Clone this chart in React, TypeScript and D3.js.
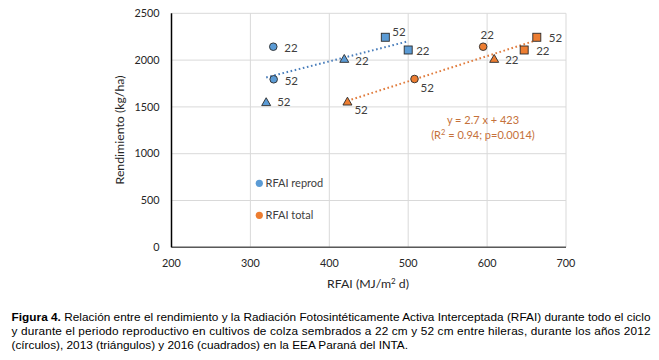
import React from "react";
import * as d3 from "d3";

// ---- Data ----
const xTicks = [200, 300, 400, 500, 600, 700];
const yTicks = [0, 500, 1000, 1500, 2000, 2500];

// Blue series: RFAI reprod
const reprodX = [329, 329.5, 320, 419, 471, 500];
const reprodY = [2143, 1795, 1550, 2012, 2244, 2108];
const reprodShape = ["circle", "circle", "triangle", "triangle", "square", "square"];
const reprodLabel = ["22", "52", "52", "22", "52", "22"];

// Orange series: RFAI total
const totalX = [423, 508, 595, 609, 647, 663];
const totalY = [1556, 1798, 2143, 2012, 2108, 2244];
const totalShape = ["triangle", "circle", "circle", "triangle", "square", "square"];
const totalLabel = ["52", "52", "22", "22", "22", "52"];

// Fitted equation for total
const totalSlope = 2.7;
const totalIntercept = 423;

const legendNames = ["RFAI reprod", "RFAI total"];

const captionLines = [
  "Relación entre el rendimiento y la Radiación Fotosintéticamente Activa Interceptada (RFAI) durante todo el ciclo",
  "y durante el periodo reproductivo en cultivos de colza sembrados a 22 cm y 52 cm entre hileras, durante los años 2012",
  "(círculos), 2013 (triángulos) y 2016 (cuadrados) en la EEA Paraná del INTA.",
];

// ---- Layout (label offsets in px, separate from data) ----
const reprodLabelOff: [number, number, string][] = [
  [11, 1, "start"], [11, 2, "start"], [11, 0, "start"], [11, 2, "start"], [7, -5, "start"], [8, 1, "start"],
];
const totalLabelOff: [number, number, string][] = [
  [7, 8, "start"], [6, 9, "start"], [4, -12, "middle"], [11, 1, "start"], [12, 1, "start"], [12, 1, "start"],
];

const BLUE = "#5B9BD5";
const BLUE_LINE = "#4A7EBB";
const ORANGE = "#ED7D31";
const ORANGE_LINE = "#E07A3A";
const STROKE = "#2a2a2a";
const FONT = "Lato, 'Open Sans', sans-serif";
const CAP_FONT = "'Liberation Sans', Arial, sans-serif";

function Marker({ shape, cx, cy, fill }: { shape: string; cx: number; cy: number; fill: string }) {
  if (shape === "circle") return <circle cx={cx} cy={cy} r={3.8} fill={fill} stroke={STROKE} strokeWidth={0.9} />;
  if (shape === "square")
    return <rect x={cx - 4} y={cy - 4} width={8} height={8} fill={fill} stroke={STROKE} strokeWidth={0.9} />;
  const s = 4.5;
  return (
    <path
      d={`M${cx},${cy - s} L${cx + s},${cy + s * 0.75} L${cx - s},${cy + s * 0.75} Z`}
      fill={fill}
      stroke={STROKE}
      strokeWidth={0.9}
    />
  );
}

export default function App() {
  const x = d3.scaleLinear().domain([200, 700]).range([171.5, 566]);
  const y = d3.scaleLinear().domain([0, 2500]).range([247.3, 13.3]);

  // linear regression for blue
  const mx = d3.mean(reprodX)!;
  const my = d3.mean(reprodY)!;
  const sxy = d3.sum(reprodX.map((v, i) => (v - mx) * (reprodY[i] - my)));
  const sxx = d3.sum(reprodX.map((v) => (v - mx) ** 2));
  const bSlope = sxy / sxx;
  const bInt = my - bSlope * mx;
  const bx0 = d3.min(reprodX)!;
  const bx1 = d3.max(reprodX)!;
  const line = d3.line<[number, number]>().x((d) => x(d[0])).y((d) => y(d[1]));
  const blueLine = line([[bx0, bInt + bSlope * bx0], [bx1, bInt + bSlope * bx1]]);
  const ox0 = d3.min(totalX)!;
  const ox1 = d3.max(totalX)!;
  const orangeLine = line([
    [ox0, totalIntercept + totalSlope * ox0],
    [ox1, totalIntercept + totalSlope * ox1],
  ]);

  return (
    <svg width={659} height={360} style={{ position: "absolute", left: 0, top: 0, background: "#fff" }}>
      <rect width={659} height={360} fill="#fff" />
      {/* grid */}
      {xTicks.map((t) => (
        <line key={"gx" + t} x1={x(t)} x2={x(t)} y1={y(2500)} y2={y(0)} stroke="#d9d9d9" strokeWidth={1} />
      ))}
      {yTicks.map((t) => (
        <line key={"gy" + t} x1={x(200)} x2={x(700)} y1={y(t)} y2={y(t)} stroke="#d9d9d9" strokeWidth={1} />
      ))}
      {/* axes */}
      <line x1={x(200)} x2={x(700)} y1={y(0)} y2={y(0)} stroke="#595959" strokeWidth={1.5} />
      <line x1={x(200)} x2={x(200)} y1={y(2500)} y2={y(0)} stroke="#000" strokeWidth={1.5} />
      {/* tick labels */}
      {yTicks.map((t) => (
        <text key={"ty" + t} x={159.5} y={y(t)} dy="0.35em" textAnchor="end" fontFamily={FONT} fontSize={10.8} fill="#262626">
          {t}
        </text>
      ))}
      {xTicks.map((t) => (
        <text key={"tx" + t} x={x(t)} y={263.5} dy="0.35em" textAnchor="middle" fontFamily={FONT} fontSize={10.8} fill="#262626">
          {t}
        </text>
      ))}
      {/* axis titles */}
      <text x={368} y={284} dy="0.35em" textAnchor="middle" fontFamily={FONT} fontSize={12.3} fill="#262626">
        RFAI (MJ/m<tspan dy="-4.5" fontSize={8}>2</tspan>
        <tspan dy="4.5"> d)</tspan>
      </text>
      <text
        transform={`translate(120,130) rotate(-90)`}
        dy="0.35em"
        textAnchor="middle"
        fontFamily={FONT}
        fontSize={12.3}
        fill="#262626"
      >
        Rendimiento (kg/ha)
      </text>
      {/* trend lines */}
      <path d={blueLine!} stroke={BLUE_LINE} strokeWidth={2} strokeDasharray="1.6 2.6" fill="none" />
      <path d={orangeLine!} stroke={ORANGE_LINE} strokeWidth={2} strokeDasharray="1.6 2.6" fill="none" />
      {/* points */}
      {reprodX.map((v, i) => (
        <g key={"b" + i}>
          <Marker shape={reprodShape[i]} cx={x(v)} cy={y(reprodY[i])} fill={BLUE} />
          <text
            x={x(v) + reprodLabelOff[i][0]}
            y={y(reprodY[i]) + reprodLabelOff[i][1]}
            dy="0.35em"
            textAnchor={reprodLabelOff[i][2] as any}
            fontFamily={FONT}
            fontSize={11.5}
            fill="#404040"
          >
            {reprodLabel[i]}
          </text>
        </g>
      ))}
      {totalX.map((v, i) => (
        <g key={"o" + i}>
          <Marker shape={totalShape[i]} cx={x(v)} cy={y(totalY[i])} fill={ORANGE} />
          <text
            x={x(v) + totalLabelOff[i][0]}
            y={y(totalY[i]) + totalLabelOff[i][1]}
            dy="0.35em"
            textAnchor={totalLabelOff[i][2] as any}
            fontFamily={FONT}
            fontSize={11.5}
            fill="#404040"
          >
            {totalLabel[i]}
          </text>
        </g>
      ))}
      {/* equation */}
      <text x={483} y={120} dy="0.35em" textAnchor="middle" fontFamily={FONT} fontSize={11} fill="#C5713A">
        y = {totalSlope} x + {totalIntercept}
      </text>
      <text x={483} y={135.5} dy="0.35em" textAnchor="middle" fontFamily={FONT} fontSize={11} fill="#C5713A">
        (R<tspan dy="-4" fontSize={7.5}>2</tspan>
        <tspan dy="4"> = 0.94; p=0.0014)</tspan>
      </text>
      {/* legend */}
      {legendNames.map((n, i) => (
        <g key={n}>
          <circle cx={259.3} cy={183.3 + i * 32} r={3.6} fill={i === 0 ? BLUE : ORANGE} />
          <text x={265.5} y={183.3 + i * 32} dy="0.35em" fontFamily={FONT} fontSize={11} fill="#404040">
            {n}
          </text>
        </g>
      ))}
      {/* caption */}
      <text x={11.5} y={320.5} fontFamily={CAP_FONT} fontSize={11.8} fill="#000" textLength={639} lengthAdjust="spacing">
        <tspan fontWeight="bold">Figura 4.</tspan> {captionLines[0]}
      </text>
      <text x={11.5} y={334.5} fontFamily={CAP_FONT} fontSize={11.8} fill="#000" textLength={639} lengthAdjust="spacing">
        {captionLines[1]}
      </text>
      <text x={11.5} y={348.5} fontFamily={CAP_FONT} fontSize={11.8} fill="#000">
        {captionLines[2]}
      </text>
    </svg>
  );
}
